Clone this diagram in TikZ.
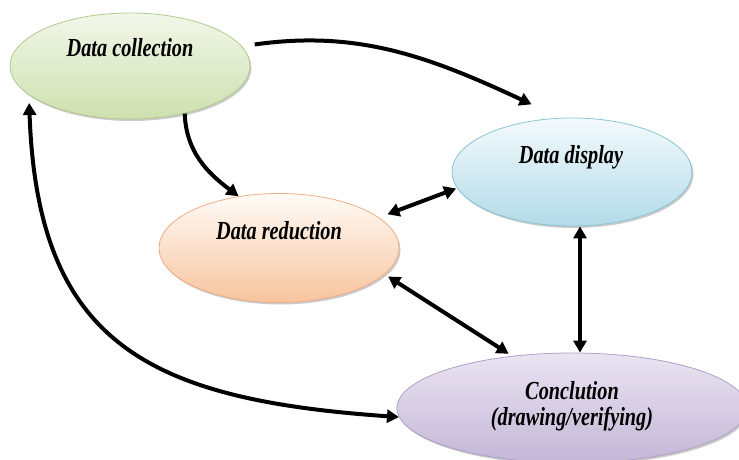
\documentclass[tikz,border=0pt]{standalone}
\usepackage{fontspec}
\newfontfamily\lblfont{Liberation Serif}[FakeStretch=0.78]
\usetikzlibrary{arrows.meta,shapes.geometric,shadows}
\definecolor{dcTop}{RGB}{242,247,234}
\definecolor{dcBot}{RGB}{206,224,174}
\definecolor{dcLine}{RGB}{178,202,140}
\definecolor{ddTop}{RGB}{244,250,252}
\definecolor{ddBot}{RGB}{178,219,232}
\definecolor{ddLine}{RGB}{138,196,214}
\definecolor{drTop}{RGB}{255,251,247}
\definecolor{drBot}{RGB}{248,196,158}
\definecolor{drLine}{RGB}{240,174,134}
\definecolor{ccTop}{RGB}{234,228,242}
\definecolor{ccBot}{RGB}{196,182,214}
\definecolor{ccLine}{RGB}{176,160,200}
\begin{document}
\begin{tikzpicture}[x=1pt,y=1pt,
  bubble/.style={ellipse, draw, line width=0.8pt, inner sep=0pt,
    drop shadow={shadow xshift=1.5pt, shadow yshift=-2pt, opacity=0.35, fill=black!60}},
  lbl/.style={font=\lblfont\bfseries\itshape\fontsize{26}{27}\selectfont, inner sep=0pt, anchor=base},
  tip/.tip={Triangle[length=12pt,width=13pt]},
  conn/.style={line width=4pt, -tip},
  bconn/.style={line width=4pt, tip-tip}]
\useasboundingbox (0,0) rectangle (739,460);
\clip (0,0) rectangle (739,460);

\node[bubble, draw=dcLine, top color=dcTop, bottom color=dcBot,
      minimum width=240pt, minimum height=106pt] (dc) at (130,394) {};
\node[bubble, draw=ddLine, top color=ddTop, bottom color=ddBot,
      minimum width=240pt, minimum height=108pt] (dd) at (572,288) {};
\node[bubble, draw=drLine, top color=drTop, bottom color=drBot,
      minimum width=240pt, minimum height=109pt] (dr) at (279,212) {};
\node[bubble, draw=ccLine, top color=ccTop, bottom color=ccBot,
      minimum width=350pt, minimum height=110pt] (cc) at (572,52) {};

\node[lbl] (dct) at (130,403) {Data collection};
\node[lbl] (ddt) at (571,296) {Data display};
\node[lbl] (drt) at (279,220) {Data reduction};
\node[lbl] (cct1) at (572,60) {Conclution};
\node[lbl] (cct2) at (572,34) {(drawing/verifying)};

\draw[conn, shorten <=13pt] (dc.10) to[out=8, in=155] ([shift={(-10,15)}]dd.120);
\draw[conn] (dc.-41) to[out=-88, in=143] (dr.128);
\draw[bconn, shorten <=9pt, shorten >=1pt] (dr.17) -- (dd.188);
\draw[bconn, shorten <=4pt, shorten >=4pt] (dr.-14) -- (cc.139);
\draw[bconn] ([xshift=8pt]dd.south) -- ([xshift=8pt]cc.north);
\draw[bconn, shorten <=8pt] (dc.196) to[out=-88, in=176, looseness=1.3] (cc.183);
\end{tikzpicture}
\end{document}
